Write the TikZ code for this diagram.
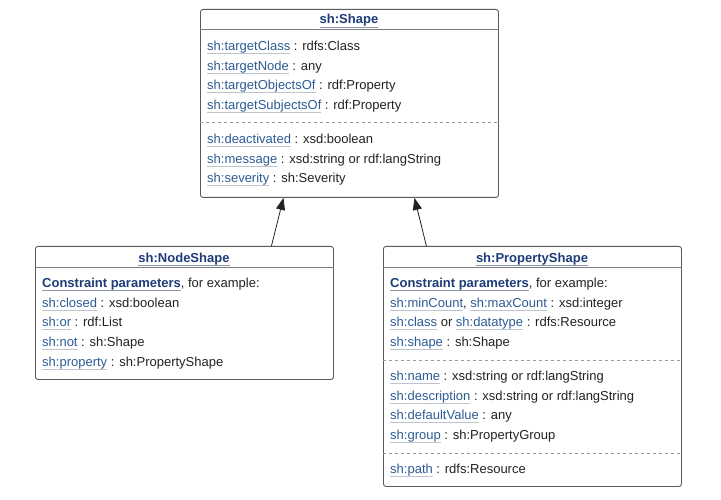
\documentclass[tikz,border=0pt]{standalone}
\usepackage{fontspec}
\setmainfont{Liberation Sans}
\usetikzlibrary{arrows.meta,positioning}
\definecolor{linkblue}{HTML}{2D5C94}
\definecolor{titleblue}{HTML}{1E3C78}
\definecolor{ulgray}{HTML}{BCC4CE}
\definecolor{hdgray}{HTML}{8A96AA}
\definecolor{boxgray}{HTML}{5A5A5A}
\definecolor{dashgray}{HTML}{9A9A9A}
\definecolor{inkgray}{HTML}{222222}
\newsavebox\lnkbox
\newcommand\lnk[2][ulgray]{\sbox\lnkbox{\color{linkblue}#2}\rlap{\color{#1}\rule[-3.4pt]{\wd\lnkbox}{0.7pt}}\usebox\lnkbox}
\newcommand\hd[1]{\lnk[hdgray]{\bfseries\color{titleblue}#1}}
\tikzset{
  umlbox/.style={draw=boxgray,line width=0.9pt,rounded corners=2.5pt,fill=white,
                 inner sep=0pt,anchor=north west},
  boxtitle/.style={anchor=base,inner sep=0pt,font=\fontsize{13}{16}\selectfont},
  members/.style={anchor=north west,align=left,inner sep=0pt,text=inkgray,
                  font=\fontsize{13}{19.7}\selectfont},
  sepline/.style={draw=boxgray!80,line width=0.8pt},
  dashsep/.style={draw=dashgray,line width=0.7pt,dash pattern=on 3pt off 3pt},
  arrow/.style={-{Triangle[length=12pt,width=9pt]},line width=0.8pt,draw=inkgray}
}
\begin{document}
\begin{tikzpicture}[x=1pt,y=-1pt]
\useasboundingbox (0,0) rectangle (721,500);
% sh:Shape
\node[umlbox,minimum width=298pt,minimum height=188pt] (shape) at (200,9) {};
\node[boxtitle] (shapeT) at (349,24) {\hd{sh:Shape}};
\node[members] (shapeA) at (207,40.7) {\lnk{sh:targetClass} : rdfs:Class\\
  \lnk{sh:targetNode} : any\\
  \lnk{sh:targetObjectsOf} : rdf:Property\\
  \lnk{sh:targetSubjectsOf} : rdf:Property};
\node[members] (shapeB) at (207,133.7) {\lnk{sh:deactivated} : xsd:boolean\\
  \lnk{sh:message} : xsd:string or rdf:langString\\
  \lnk{sh:severity} : sh:Severity};
\draw[sepline] ([yshift=-20pt]shape.north west) -- ([yshift=-20pt]shape.north east);
\draw[dashsep] ([yshift=-113pt]shape.north west) -- ([yshift=-113pt]shape.north east);
% sh:NodeShape
\node[umlbox,minimum width=298pt,minimum height=133pt] (nodeshape) at (35,246) {};
\node[boxtitle] (nodeshapeT) at (184,262) {\hd{sh:NodeShape}};
\node[members] (nodeshapeA) at (42,277.7) {\hd{Constraint parameters}, for example:\\
  \lnk{sh:closed} : xsd:boolean\\
  \lnk{sh:or} : rdf:List\\
  \lnk{sh:not} : sh:Shape\\
  \lnk{sh:property} : sh:PropertyShape};
\draw[sepline] ([yshift=-21pt]nodeshape.north west) -- ([yshift=-21pt]nodeshape.north east);
% sh:PropertyShape
\node[umlbox,minimum width=298pt,minimum height=240pt] (propshape) at (383,246) {};
\node[boxtitle] (propshapeT) at (532,262) {\hd{sh:PropertyShape}};
\node[members] (propshapeA) at (390,277.7) {\hd{Constraint parameters}, for example:\\
  \lnk{sh:minCount}, \lnk{sh:maxCount} : xsd:integer\\
  \lnk{sh:class} or \lnk{sh:datatype} : rdfs:Resource\\
  \lnk{sh:shape} : sh:Shape};
\node[members] (propshapeB) at (390,370.7) {\lnk{sh:name} : xsd:string or rdf:langString\\
  \lnk{sh:description} : xsd:string or rdf:langString\\
  \lnk{sh:defaultValue} : any\\
  \lnk{sh:group} : sh:PropertyGroup};
\node[members] (propshapeC) at (390,463.7) {\lnk{sh:path} : rdfs:Resource};
\draw[sepline] ([yshift=-21pt]propshape.north west) -- ([yshift=-21pt]propshape.north east);
\draw[dashsep] ([yshift=-114pt]propshape.north west) -- ([yshift=-114pt]propshape.north east);
\draw[dashsep] ([yshift=-207pt]propshape.north west) -- ([yshift=-207pt]propshape.north east);
% generalisation
\draw[arrow] ([xshift=87pt]nodeshape.north) -- ([xshift=-66pt]shape.south);
\draw[arrow] ([xshift=-106pt]propshape.north) -- ([xshift=65pt]shape.south);
\end{tikzpicture}
\end{document}
